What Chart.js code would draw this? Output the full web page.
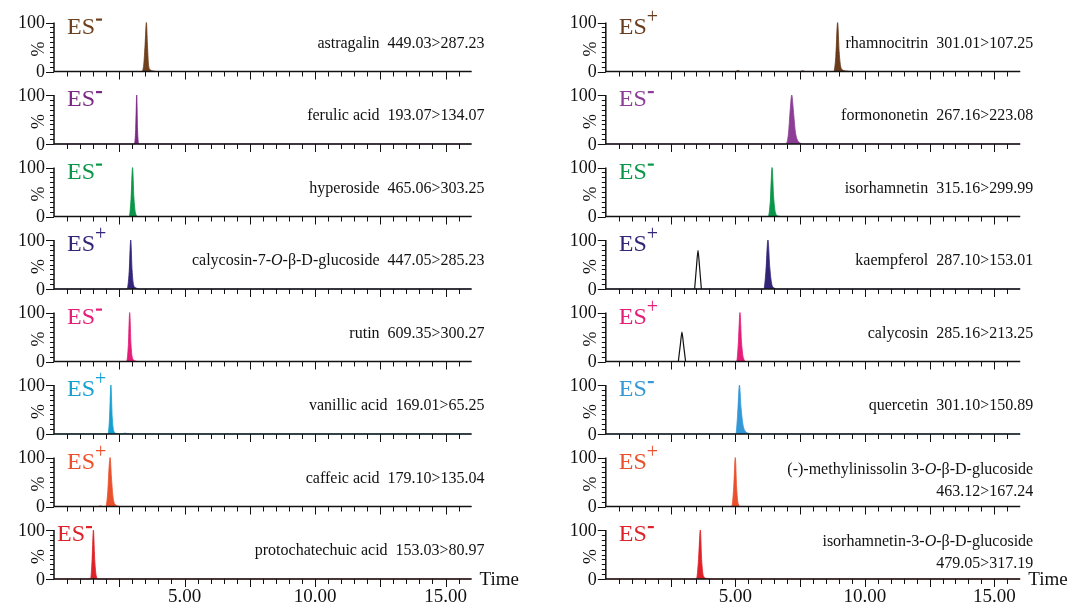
<!DOCTYPE html>
<html>
<head>
<meta charset="utf-8">
<script src="https://cdn.jsdelivr.net/npm/chart.js@4.4.1/dist/chart.umd.min.js"></script>
<style>
  html, body { margin: 0; padding: 0; background: #fff; }
  #wrap { position: relative; width: 1072px; height: 608px; background: #fff; overflow: hidden; }
  #wrap canvas { position: absolute; }
</style>
</head>
<body>
<div id="wrap"></div>
<script>
// ---- data ----
// left column top to bottom, then right column top to bottom
const names = [
    'astragalin', 'ferulic acid', 'hyperoside', 'calycosin-7-*O*-β-D-glucoside',
    'rutin', 'vanillic acid', 'caffeic acid', 'protochatechuic acid',
    'rhamnocitrin', 'formononetin', 'isorhamnetin', 'kaempferol',
    'calycosin', 'quercetin', '(-)-methylinissolin 3-*O*-β-D-glucoside', 'isorhamnetin-3-*O*-β-D-glucoside'
];
const transitions = [
    '449.03>287.23', '193.07>134.07', '465.06>303.25', '447.05>285.23',
    '609.35>300.27', '169.01>65.25', '179.10>135.04', '153.03>80.97',
    '301.01>107.25', '267.16>223.08', '315.16>299.99', '287.10>153.01',
    '285.16>213.25', '301.10>150.89', '463.12>167.24', '479.05>317.19'
];
const modes = ['-', '-', '-', '+', '-', '+', '+', '-', '+', '-', '-', '+', '+', '-', '+', '-'];

// chromatogram points: [time (min), relative intensity %]
const astragalin = [[0, 0], [3.36, 0], [3.44, 15], [3.49, 55], [3.54, 100], [3.58, 55], [3.62, 15], [3.68, 4], [3.80, 1], [3.95, 0], [16, 0]];
const ferulicAcid = [[0, 0], [3.08, 0], [3.13, 30], [3.17, 100], [3.20, 30], [3.25, 0], [16, 0]];
const hyperoside = [[0, 0], [2.88, 0], [2.95, 35], [3.01, 100], [3.06, 40], [3.12, 8], [3.22, 0], [16, 0]];
const calycosinGlc = [[0, 0], [2.80, 0], [2.88, 35], [2.94, 100], [2.99, 40], [3.05, 8], [3.15, 2], [3.25, 0], [16, 0]];
const rutin = [[0, 0], [2.78, 0], [2.85, 35], [2.90, 100], [2.95, 35], [3.01, 6], [3.12, 1], [3.20, 0], [16, 0]];
const vanillicAcid = [[0, 0], [2.07, 0], [2.13, 35], [2.18, 100], [2.23, 35], [2.29, 6], [2.40, 1], [2.60, 0], [2.73, 2], [2.80, 0], [16, 0]];
const caffeicAcid = [[0, 0], [1.70, 0], [1.78, 1.5], [1.86, 0], [1.98, 0], [2.06, 30], [2.11, 80], [2.15, 100], [2.20, 60], [2.26, 20], [2.33, 5], [2.45, 1], [2.55, 0], [16, 0]];
const protocatechuicAcid = [[0, 0], [1.40, 0], [1.46, 40], [1.51, 100], [1.56, 40], [1.62, 6], [1.70, 0], [16, 0]];
const rhamnocitrin = [[0, 0], [5.00, 0], [5.10, 2], [5.20, 0], [7.50, 0], [7.60, 1.5], [7.70, 0], [8.80, 0], [8.88, 30], [8.95, 100], [9.01, 40], [9.07, 10], [9.15, 3], [9.30, 1], [9.50, 0], [16, 0]];
const formononetin = [[0, 0], [6.95, 0], [7.05, 20], [7.12, 70], [7.18, 100], [7.24, 70], [7.32, 25], [7.40, 8], [7.50, 2], [7.70, 0], [16, 0]];
const isorhamnetin = [[0, 0], [6.27, 0], [6.35, 30], [6.42, 100], [6.48, 40], [6.55, 8], [6.65, 1], [6.80, 0], [16, 0]];
const kaempferol = [[0, 0], [6.10, 0], [6.18, 35], [6.26, 100], [6.33, 45], [6.40, 12], [6.50, 2], [6.65, 0], [16, 0]];
const calycosin = [[0, 0], [5.05, 0], [5.12, 40], [5.18, 100], [5.24, 40], [5.31, 8], [5.43, 0], [16, 0]];
const quercetin = [[0, 0], [5.02, 0], [5.09, 40], [5.16, 100], [5.22, 55], [5.30, 18], [5.40, 5], [5.55, 1], [5.70, 0], [16, 0]];
const methylinissolinGlc = [[0, 0], [4.86, 0], [4.94, 40], [5.00, 100], [5.05, 40], [5.11, 6], [5.20, 0], [16, 0]];
const isorhamnetinGlc = [[0, 0], [3.50, 0], [3.58, 40], [3.65, 100], [3.70, 40], [3.77, 6], [3.90, 1], [4.10, 0], [16, 0]];

// unfilled black peaks of other compounds in the same channel
const kaempferolOther = [[3.43, 0], [3.50, 45], [3.56, 79], [3.62, 45], [3.69, 0]];
const calycosinOther = [[2.80, 0], [2.88, 35], [2.94, 60], [3.00, 35], [3.08, 0]];

const series = [
    astragalin, ferulicAcid, hyperoside, calycosinGlc, rutin, vanillicAcid, caffeicAcid, protocatechuicAcid,
    rhamnocitrin, formononetin, isorhamnetin, kaempferol, calycosin, quercetin, methylinissolinGlc, isorhamnetinGlc
];
const otherPeaks = { 11: kaempferolOther, 12: calycosinOther };

const xTickLabels = [5, 10, 15];
const yTickLabels = [0, 100];
const xMax = 16;

// ---- styles ----
const colors = [
    'rgb(110,64,30)', 'rgb(122,40,132)', 'rgb(10,150,72)', 'rgb(52,36,120)',
    'rgb(228,30,120)', 'rgb(22,160,210)', 'rgb(235,80,45)', 'rgb(222,34,40)',
    'rgb(104,60,28)', 'rgb(140,62,150)', 'rgb(10,150,72)', 'rgb(52,36,120)',
    'rgb(228,30,120)', 'rgb(52,152,215)', 'rgb(235,80,45)', 'rgb(222,34,40)'
];
const serif = '"Liberation Serif", "Times New Roman", serif';

const rowBase = 71.5;   // y of first baseline
const rowGap = 72.5;
const plotH = 49;

function drawRuns(ctx, text, xRight, y, size) {
    // *...* marks italic parts; right aligned
    const parts = text.split('*');
    let widths = parts.map(function (p, i) {
        ctx.font = (i % 2 ? 'italic ' : '') + size + 'px ' + serif;
        return ctx.measureText(p).width;
    });
    let x = xRight - widths.reduce((a, b) => a + b, 0);
    ctx.textAlign = 'left';
    parts.forEach(function (p, i) {
        ctx.font = (i % 2 ? 'italic ' : '') + size + 'px ' + serif;
        ctx.fillText(p, x, y);
        x += widths[i];
    });
}

const msAxes = {
    id: 'msAxes',
    afterDatasetsDraw(chart, args, opts) {
        const ctx = chart.ctx;
        const xs = chart.scales.x, ys = chart.scales.y;
        const i = opts.idx;
        const x0 = xs.getPixelForValue(0), x1 = xs.getPixelForValue(xMax);
        const yb = ys.getPixelForValue(0), yt = ys.getPixelForValue(100);
        ctx.save();
        ctx.strokeStyle = '#111';
        ctx.fillStyle = '#111';

        // axis lines
        ctx.lineWidth = 1.5;
        ctx.beginPath();
        ctx.moveTo(x0, yt); ctx.lineTo(x0, yb); ctx.lineTo(x1, yb);
        ctx.stroke();

        // x ticks every 0.5 min, longer every 2.5
        ctx.lineWidth = 1;
        ctx.beginPath();
        for (let k = 1; k < xMax * 2; k++) {
            const px = Math.round(xs.getPixelForValue(k * 0.5)) + 0.5;
            const len = (k % 5 === 0) ? 8 : 5;
            ctx.moveTo(px, yb); ctx.lineTo(px, yb + len);
        }
        // y ticks every 10 %
        for (let v = 0; v <= 100; v += 10) {
            const py = Math.round(ys.getPixelForValue(v)) + 0.5;
            const len = (v === 0 || v === 100) ? 8 : 4;
            ctx.moveTo(x0, py); ctx.lineTo(x0 - len, py);
        }
        ctx.stroke();

        // y labels
        ctx.font = '18px ' + serif;
        ctx.textAlign = 'right';
        ctx.textBaseline = 'middle';
        yTickLabels.forEach(function (v) {
            ctx.fillText(String(v), x0 - 9, ys.getPixelForValue(v) + 1);
        });
        ctx.save();
        ctx.translate(x0 - 15, (yb + yt) / 2 + 2);
        ctx.rotate(-Math.PI / 2);
        ctx.textAlign = 'center';
        ctx.font = '18px ' + serif;
        ctx.fillText('%', 0, 0);
        ctx.restore();

        // ion mode
        ctx.fillStyle = colors[i];
        ctx.textBaseline = 'alphabetic';
        ctx.textAlign = 'left';
        ctx.font = '24px ' + serif;
        const ex = x0 + (i === 7 ? 3 : 13);
        const ey = yb - 38;
        ctx.fillText('ES', ex, ey);
        const ew = ctx.measureText('ES').width;
        if (modes[i] === '+') {
            ctx.font = '20px ' + serif;
            ctx.textBaseline = 'middle';
            ctx.fillText('+', ex + ew, ey - 16);
        } else {
            ctx.fillRect(ex + ew + 1, ey - 15, 6, 2.2);
        }

        // compound label
        ctx.fillStyle = '#111';
        ctx.textBaseline = 'middle';
        const xr = x1 + 13;
        if (i === 14 || i === 15) {
            drawRuns(ctx, names[i], xr, yb - 37, 16);
            drawRuns(ctx, transitions[i], xr, yb - 15, 16);
        } else {
            drawRuns(ctx, names[i] + '  ' + transitions[i], xr, yb - 28, 16);
        }

        // bottom row: time axis labels
        if (opts.row === 7) {
            ctx.font = '19px ' + serif;
            ctx.textAlign = 'center';
            ctx.textBaseline = 'top';
            xTickLabels.forEach(function (v) {
                ctx.fillText(v.toFixed(2), xs.getPixelForValue(v), yb + 9);
            });
            ctx.textAlign = 'left';
            ctx.textBaseline = 'middle';
            ctx.fillText('Time', x1 + 8, yb + 1);
        }
        ctx.restore();
    }
};

const wrap = document.getElementById('wrap');

for (let i = 0; i < 16; i++) {
    const col = i < 8 ? 0 : 1;
    const row = i % 8;
    const baseline = rowBase + rowGap * row;
    const canvasLeft = col === 0 ? 0 : 540;
    const canvasW = col === 0 ? 540 : 532;
    const axisLeft = col === 0 ? 54 : 65.8;       // inside canvas
    const axisRight = col === 0 ? 471.6 : 480.2;
    const top = Math.round(baseline - 66);
    const h = 98;

    const cv = document.createElement('canvas');
    cv.width = canvasW; cv.height = h;
    cv.style.left = canvasLeft + 'px';
    cv.style.top = top + 'px';
    cv.style.width = canvasW + 'px';
    cv.style.height = h + 'px';
    wrap.appendChild(cv);

    const datasets = [];
    if (otherPeaks[i]) {
        datasets.push({
            data: otherPeaks[i].map(p => ({ x: p[0], y: p[1] })),
            borderColor: '#111',
            borderWidth: 1.2,
            fill: false,
            pointRadius: 0,
            tension: 0.25,
            clip: false
        });
    }
    datasets.push({
        data: series[i].map(p => ({ x: p[0], y: p[1] })),
        borderColor: colors[i],
        backgroundColor: colors[i],
        borderWidth: 0.8,
        fill: 'origin',
        pointRadius: 0,
        tension: 0.2,
        cubicInterpolationMode: 'monotone',
        clip: false
    });

    new Chart(cv, {
        type: 'line',
        data: { datasets: datasets },
        options: {
            responsive: false,
            animation: false,
            devicePixelRatio: 1,
            layout: {
                padding: {
                    left: axisLeft,
                    right: canvasW - axisRight,
                    top: (baseline - top) - plotH,
                    bottom: h - (baseline - top)
                }
            },
            scales: {
                x: { type: 'linear', min: 0, max: xMax, display: false },
                y: { min: 0, max: 100, display: false }
            },
            plugins: {
                legend: { display: false },
                tooltip: { enabled: false },
                msAxes: { idx: i, row: row }
            }
        },
        plugins: [msAxes]
    });
}
</script>
</body>
</html>
